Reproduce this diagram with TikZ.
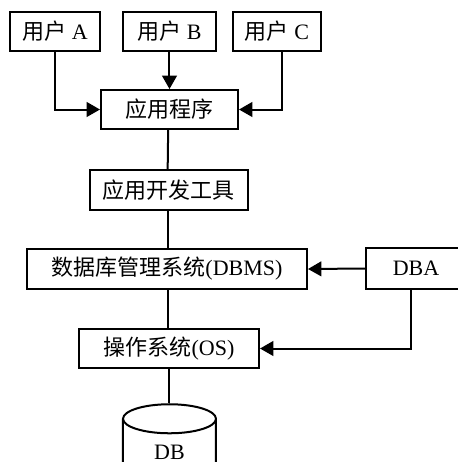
\documentclass[tikz,border=0pt]{standalone}
\usepackage{fontspec}
\setmainfont{Liberation Serif}
\newfontfamily\cjk{Noto Sans CJK SC}
\usetikzlibrary{arrows.meta,shapes.geometric}

\tikzset{
  box/.style={draw, line width=1.5pt, inner sep=0pt, minimum height=29.25pt,
    font=\fontsize{16.5}{20}\selectfont},
  link/.style={line width=1.5pt},
  arr/.style={line width=1.5pt, -{Triangle[length=10pt,width=11pt]}},
}

\begin{document}
\begin{tikzpicture}[x=0.75pt,y=0.75pt,yscale=-1,xscale=1]
\useasboundingbox (0,0) rectangle (458,462);
\clip (0,0) rectangle (458,462);

%Shape: Rectangle (users)
\node[box, minimum width=67.5pt] (userA) at (55,31.5) {{\cjk 用户} A};
\node[box, minimum width=69.75pt] (userB) at (169.5,31.5) {{\cjk 用户} B};
\node[box, minimum width=66pt] (userC) at (277,31.5) {{\cjk 用户} C};

%Shape: Rectangle (layers)
\node[box, minimum width=102.75pt] (app) at (169.5,109.5) {\cjk 应用程序};
\node[box, minimum width=118.5pt, minimum height=30pt] (tool) at (169,190) {\cjk 应用开发工具};
\node[box, minimum width=210pt, minimum height=30pt] (dbms) at (167,269) {{\cjk 数据库管理系统}(DBMS)};
\node[box, minimum width=75pt, minimum height=30.75pt] (dba) at (416,268.5) {DBA};
\node[box, minimum width=135pt] (os) at (169,348.5) {{\cjk 操作系统}(OS)};

%Shape: Can
\node[box, shape=cylinder, shape border rotate=90, aspect=0.95,
  minimum width=69.75pt, minimum height=60pt] (db) at (169.5,452) {DB};

%Straight Lines
\draw[arr] (userA.south) |- (app.west);
\draw[arr] (userB.south) -- (app.north);
\draw[arr] ([xshift=3.75pt]userC.south) |- (app.east);
%Straight Lines
\draw[link] ([xshift=-1pt]app.south) -- ([xshift=-1pt]tool.north);
\draw[link] ([xshift=-0.75pt]tool.south) -- ([xshift=0.75pt]dbms.north);
\draw[link] ([xshift=0.75pt]dbms.south) -- ([xshift=-0.75pt]os.north);
\draw[link] (os.south) -- (os.south |- db.north);
%Straight Lines
\draw[arr] (dba.west) -- (dbms.east);
\draw[arr] ([xshift=-3.75pt]dba.south) |- (os.east);

\end{tikzpicture}
\end{document}
